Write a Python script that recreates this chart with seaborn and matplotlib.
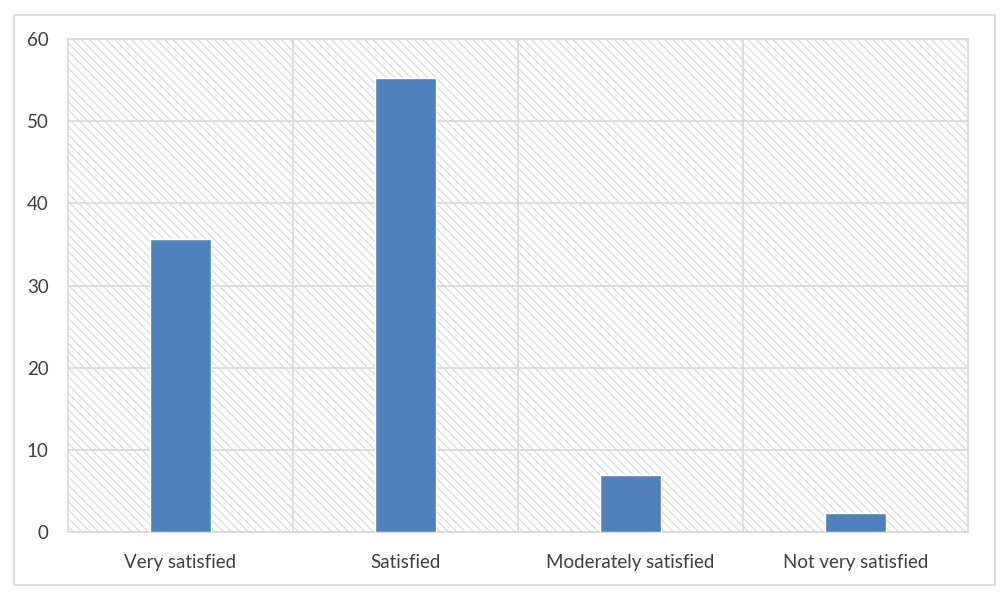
import matplotlib
matplotlib.use('Agg')
import matplotlib.pyplot as plt
import seaborn as sns
import pandas as pd
from matplotlib.patches import Rectangle

# Satisfaction survey data
categories = ['Very satisfied', 'Satisfied', 'Moderately satisfied', 'Not very satisfied']
values = [35.6, 55.2, 6.9, 2.3]
y_ticks = [0, 10, 20, 30, 40, 50, 60]

df = pd.DataFrame({'category': categories, 'value': values})

sns.set_theme(style='white')
plt.rcParams['font.family'] = ['Lato', 'DejaVu Sans']
plt.rcParams['hatch.color'] = '#d9d9d9'
plt.rcParams['hatch.linewidth'] = 0.8

fig = plt.figure(figsize=(10, 6), dpi=100)
ax = fig.add_axes([0.068, 0.1133, 0.9, 0.8217])

# hatched plot-area background
ax.add_patch(Rectangle((0, 0), 1, 1, transform=ax.transAxes, facecolor='white',
                       edgecolor='#d9d9d9', hatch='\\\\\\\\', linewidth=0, zorder=0))

sns.barplot(data=df, x='category', y='value', color='#4f81bd', saturation=1,
            width=0.27, ax=ax, zorder=3)

ax.set_ylim(0, 60)
ax.set_xlim(-0.5, len(categories) - 0.5)
ax.set_yticks(y_ticks)
ax.set_xlabel('')
ax.set_ylabel('')

# grid: horizontal at ticks, vertical between categories
for y in y_ticks:
    ax.axhline(y, color='#d9d9d9', linewidth=1.2, zorder=1)
for x in [i + 0.5 for i in range(len(categories) - 1)]:
    ax.axvline(x, color='#d9d9d9', linewidth=1.2, zorder=1)

for side in ['top', 'right', 'left', 'bottom']:
    ax.spines[side].set_color('#d9d9d9')
    ax.spines[side].set_linewidth(1.2)

ax.tick_params(axis='both', length=0, labelsize=13.5, colors='#404040')
ax.tick_params(axis='x', pad=16)
ax.tick_params(axis='y', pad=14)

# outer chart border
fig.patches.append(Rectangle((0.014, 0.025), 0.981, 0.95, transform=fig.transFigure,
                             facecolor='none', edgecolor='#d9d9d9', linewidth=1.2))

fig.savefig('out.png', dpi=100)
